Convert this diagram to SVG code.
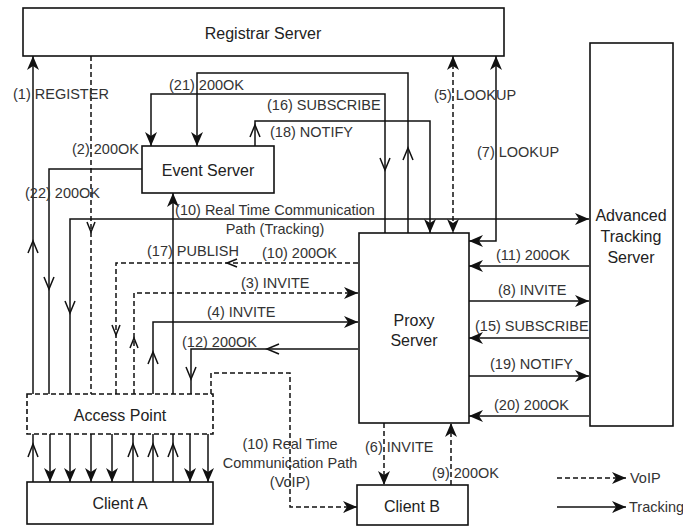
<svg xmlns="http://www.w3.org/2000/svg" width="683" height="526" viewBox="0 0 683 526">
<style>
.ln{fill:none;stroke:#111;stroke-width:1.5}
.ds{stroke-dasharray:5 3}
.box{fill:#fff;stroke:#111;stroke-width:1.6}
.mv{fill:none;stroke:#111;stroke-width:1.5}
.t{font-family:"Liberation Sans",Arial,sans-serif;font-size:14.5px;fill:#333}
.bt{font-family:"Liberation Sans",Arial,sans-serif;font-size:16px;fill:#222;text-anchor:middle}
.c{text-anchor:middle}
</style>
<defs>
<marker id="ah" viewBox="0 0 14 12" refX="14" refY="6" markerWidth="14" markerHeight="12" markerUnits="userSpaceOnUse" orient="auto-start-reverse">
<path d="M0,0 L14,6 L0,12 L4,6 z" fill="#111"/>
</marker>
</defs>

<g id="connectors">
<!-- left side flows from Access Point -->
<path class="ln" d="M33,394 V56" marker-end="url(#ah)"/>
<path class="ln ds" d="M91,56 V394"/>
<path class="ln" d="M142,169 H49 V394"/>
<path class="ln" d="M70,394 V219 H589" marker-end="url(#ah)"/>
<path class="ln ds" d="M358,263 H116 V394"/>
<path class="ln ds" d="M134,394 V293 H358" marker-end="url(#ah)"/>
<path class="ln" d="M153,394 V322 H358" marker-end="url(#ah)"/>
<path class="ln" d="M173,394 V193" marker-end="url(#ah)"/>
<path class="ln" d="M358,349 H191 V394"/>
<path class="ln ds" d="M211,394 V373 H290 V507 H357" marker-end="url(#ah)"/>
<!-- top flows -->
<path class="ln" d="M408,233 V73 H197 V146" marker-end="url(#ah)"/>
<path class="ln" d="M385,233 V94 H151 V146" marker-end="url(#ah)"/>
<path class="ln" d="M255,146 V121 H430 V233" marker-end="url(#ah)"/>
<path class="ln ds" d="M453,56 V233" marker-start="url(#ah)" marker-end="url(#ah)"/>
<path class="ln" d="M496,56 V241 H469" marker-start="url(#ah)" marker-end="url(#ah)"/>
<!-- proxy <-> tracking server -->
<path class="ln" d="M589,266 H469" marker-end="url(#ah)"/>
<path class="ln" d="M469,301 H589" marker-end="url(#ah)"/>
<path class="ln" d="M589,338 H469" marker-end="url(#ah)"/>
<path class="ln" d="M469,376 H589" marker-end="url(#ah)"/>
<path class="ln" d="M589,416 H469" marker-end="url(#ah)"/>
<!-- proxy <-> client B -->
<path class="ln ds" d="M384,423 V485" marker-end="url(#ah)"/>
<path class="ln ds" d="M451,485 V423" marker-end="url(#ah)"/>
<!-- access point <-> client A -->
<path class="ln" d="M33,482 V434"/>
<path class="ln" d="M50,434 V482" marker-end="url(#ah)"/>
<path class="ln" d="M70,434 V482" marker-end="url(#ah)"/>
<path class="ln" d="M91,434 V482" marker-end="url(#ah)"/>
<path class="ln" d="M112,434 V482" marker-end="url(#ah)"/>
<path class="ln" d="M133,482 V434"/>
<path class="ln" d="M153,482 V434"/>
<path class="ln" d="M173,482 V434"/>
<path class="ln" d="M190,434 V482" marker-end="url(#ah)"/>
<path class="ln" d="M208,434 V482" marker-end="url(#ah)"/>
<!-- mid-line arrowheads -->
<polyline class="mv" points="28,253 33,241 38,253"/>
<polyline class="mv" points="87,222 91,232 95,222"/>
<polyline class="mv" points="44,277 49,289 54,277"/>
<polyline class="mv" points="65,301 70,313 75,301"/>
<polyline class="mv" points="112,325 116,335 120,325"/>
<polyline class="mv" points="237,259 227,263 237,267"/>
<polyline class="mv" points="130,348 134,338 138,348"/>
<polyline class="mv" points="148,364 153,352 158,364"/>
<polyline class="mv" points="186,367 191,379 196,367"/>
<polyline class="mv" points="279,344 267,349 279,354"/>
<polyline class="mv" points="380,158 385,170 390,158"/>
<polyline class="mv" points="403,160 408,148 413,160"/>
<polyline class="mv" points="250,137 255,125 260,137"/>
<polyline class="mv" points="28,457 33,444 38,457"/>
<polyline class="mv" points="128,457 133,444 138,457"/>
<polyline class="mv" points="148,457 153,444 158,457"/>
<polyline class="mv" points="168,457 173,444 178,457"/>
<!-- legend -->
<path class="ln ds" d="M557,478 H626" marker-end="url(#ah)"/>
<path class="ln" d="M557,507 H626" marker-end="url(#ah)"/>
</g>

<g id="registrar">
<rect class="box" x="23" y="8" width="481" height="48"/>
<text class="bt" x="263" y="39">Registrar Server</text>
</g>
<g id="event-server">
<rect class="box" x="142" y="146" width="132" height="47"/>
<text class="bt" x="208" y="176">Event Server</text>
</g>
<g id="proxy-server">
<rect class="box" x="359" y="233" width="110" height="190"/>
<text class="bt" x="414" y="326">Proxy</text>
<text class="bt" x="414" y="346">Server</text>
</g>
<g id="advanced-tracking-server">
<rect class="box" x="590" y="43" width="83" height="383"/>
<text class="bt" x="631" y="221">Advanced</text>
<text class="bt" x="631" y="242">Tracking</text>
<text class="bt" x="631" y="263">Server</text>
</g>
<g id="access-point">
<rect class="box ds" x="27" y="394" width="186" height="40"/>
<text class="bt" x="120" y="421">Access Point</text>
</g>
<g id="client-a">
<rect class="box" x="27" y="482" width="186" height="42"/>
<text class="bt" x="120" y="509">Client A</text>
</g>
<g id="client-b">
<rect class="box" x="357" y="485" width="111" height="40"/>
<text class="bt" x="412" y="512">Client B</text>
</g>

<g id="labels">
<text class="t" x="13" y="99">(1) REGISTER</text>
<text class="t" x="72" y="154">(2) 200OK</text>
<text class="t" x="25" y="198">(22) 200OK</text>
<text class="t" x="169" y="90">(21) 200OK</text>
<text class="t" x="267" y="110">(16) SUBSCRIBE</text>
<text class="t" x="270" y="137">(18) NOTIFY</text>
<text class="t" x="434" y="100">(5) LOOKUP</text>
<text class="t" x="477" y="157">(7) LOOKUP</text>
<text class="t c" x="275" y="215">(10) Real Time Communication</text>
<text class="t c" x="275" y="234">Path (Tracking)</text>
<text class="t" x="147" y="256">(17) PUBLISH</text>
<text class="t" x="262" y="258">(10) 200OK</text>
<text class="t" x="241" y="288">(3) INVITE</text>
<text class="t" x="207" y="317">(4) INVITE</text>
<text class="t" x="182" y="347">(12) 200OK</text>
<text class="t" x="496" y="260">(11) 200OK</text>
<text class="t" x="498" y="295">(8) INVITE</text>
<text class="t" x="475" y="331">(15) SUBSCRIBE</text>
<text class="t" x="490" y="369">(19) NOTIFY</text>
<text class="t" x="494" y="410">(20) 200OK</text>
<text class="t" x="365" y="452">(6) INVITE</text>
<text class="t" x="432" y="478">(9) 200OK</text>
<text class="t c" x="290" y="449">(10) Real Time</text>
<text class="t c" x="290" y="468">Communication Path</text>
<text class="t c" x="290" y="487">(VoIP)</text>
<text class="t" x="630" y="483">VoIP</text>
<text class="t" x="629" y="512">Tracking</text>
</g>
</svg>
